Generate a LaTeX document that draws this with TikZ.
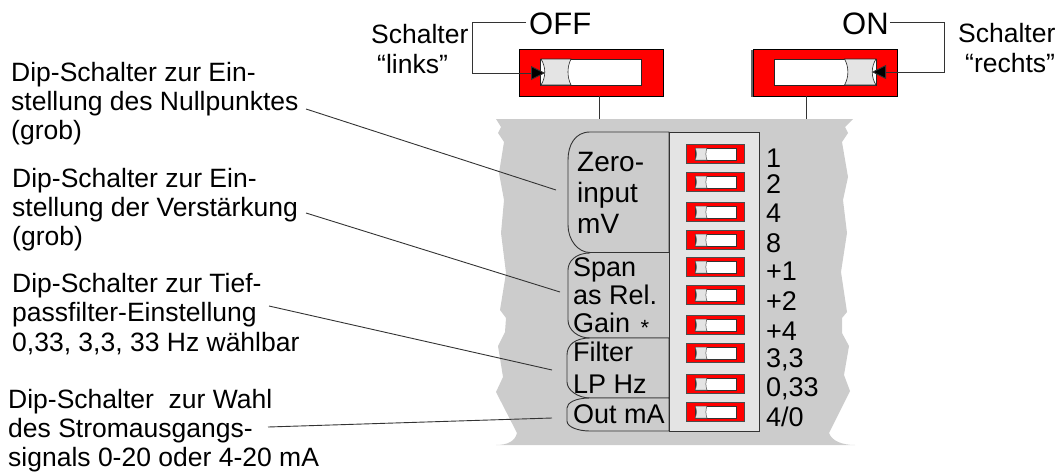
\documentclass[tikz,border=0pt]{standalone}
\usepackage{fontspec}
\setmainfont{Liberation Sans}
\usetikzlibrary{arrows.meta}
\definecolor{bodyg}{HTML}{CCCCCC}
\definecolor{panelg}{HTML}{E4E4E4}
\tikzset{
 x=1pt,y=-1pt,
 lbl/.style={inner sep=0pt,anchor=base west,font=\fontsize{26.5}{28}\selectfont,align=left},
 txt/.style={inner sep=0pt,anchor=base west,font=\fontsize{27}{30}\selectfont},
 txtb/.style={inner sep=0pt,anchor=base west,font=\fontsize{28}{30}\selectfont},
 lead/.style={draw=black!80,line width=0.9pt},
 roundbox/.style={draw=black!80,line width=0.9pt,fill=bodyg},
 bighead/.style={-{Triangle[length=14pt,width=14pt,fill=black]}},
}
\newcommand{\smallsw}[2]{%
 \fill[gray] (687,#1+1) rectangle (745,#1+20);
 \fill[red,draw=black!70,line width=.7pt] (686,#1) rectangle (744,#1+19);
 \fill[white,draw=black!80,line width=.7pt] (695,#1+4) rectangle (736,#1+16);
 \fill[panelg,draw=black!70,line width=.5pt] (695,#1+4) -- (707,#1+4) .. controls (705.5,#1+8) and (705.5,#1+12) .. (707,#1+16) -- (695,#1+16) .. controls (697,#1+12) and (697,#1+8) .. cycle;
 \coordinate (#2) at (744,#1+9);
}
\newcommand{\bigsw}[2]{%
 \fill[panelg,draw=black!85,line width=.6pt] (#1+1,59) -- (#2,59) .. controls (#2-4,67) and (#2-4,77) .. (#2,85) -- (#1+1,85) .. controls (#1+6,77) and (#1+6,67) .. cycle;
}
\begin{document}
\begin{tikzpicture}
\useasboundingbox (0,0) rectangle (1057,471);
% body
\fill[bodyg] (496,119) -- (853,119) -- (845,127) -- (848,133) -- (842,142) -- (848,177) -- (843,200) -- (847,233) -- (841,272) -- (847,312) -- (842,318) -- (842,333) -- (849,346) -- (844,375) -- (850,391) -- (829,433) .. controls (832,441) and (842,445) .. (855,445) -- (496,445) .. controls (508,445) and (515,441) .. (517,433) -- (496,392) -- (503,377) -- (498,346) -- (505,332) -- (506,318) -- (500,310) -- (506,273) -- (501,233) -- (504,200) -- (499,173) -- (504,142) -- (498,133) -- (501,127) -- cycle;
% leaders
\coordinate (z) at (556,190);
\coordinate (zs) at (306,109);
\coordinate (s) at (560,292);
\coordinate (ss) at (306,213);
\coordinate (f) at (552,370);
\coordinate (fs) at (269,306);
\coordinate (o) at (552,418);
\coordinate (os) at (268,427);
\draw[lead] (zs) -- (z);
\draw[lead] (ss) -- (s);
\draw[lead] (fs) -- (f);
\draw[lead] (os) -- (o);
% label boxes
\path[roundbox] (669,132) -- (590,132) .. controls (575,132) and (568,145) .. (568,160) -- (568,225) .. controls (568,240) and (578,252.5) .. (590,252.5) -- (669,252.5) -- cycle;
\path[roundbox] (669,338) -- (590,338) .. controls (578,338) and (568,330) .. (568,320) -- (568,270) .. controls (568,262) and (575,253) .. (590,253);
\path[roundbox] (669,338) -- (590,338) .. controls (575,338) and (567,345) .. (567,355) -- (567,382) .. controls (567,390) and (578,398) .. (590,398) -- (669,398) -- cycle;
\path[roundbox] (669,398) -- (590,398) .. controls (575,398) and (567,403) .. (567,408) -- (567,421) .. controls (567,427) and (578,431) .. (590,431) -- (669,431) -- cycle;
\node[draw=black!80,fill=panelg,line width=.9pt,minimum width=90.5pt,minimum height=299pt,inner sep=0pt,anchor=north west] (panel) at (668.5,132) {};
% small switches
\smallsw{144}{a}\smallsw{172}{b}\smallsw{202}{c}\smallsw{230}{d}\smallsw{257}{e}\smallsw{285}{f1}\smallsw{315}{g}\smallsw{343}{h}\smallsw{374}{i}\smallsw{402}{j}
% texts in boxes
\node[txtb] (t1) at (577,171) {Zero-};
\node[txtb] (t2) at (577,202) {input};
\node[txtb] (t3) at (577,233) {mV};
\node[txt] (t4) at (573,276) {Span};
\node[txt] (t5) at (573,304) {as Rel.};
\node[txt] (t6) at (573,332) {Gain};
\node[inner sep=0pt,anchor=center,font=\fontsize{22}{22}\selectfont] (star) at (645,328) {*};
\node[txt] (t7) at (573,361) {Filter};
\node[txt] (t8) at (573,393) {LP Hz};
\node[txt] (t9) at (573,423) {Out mA};
% numbers
\foreach \n/\t/\y in {n1/1/167,n2/2/193,n3/4/222,n4/8/252,n5/+1/280,n6/+2/310,n7/+4/340,n8/{3,3}/367,n9/{0,33}/396,n10/4\slash 0/426}
  \node[txt] (\n) at (766,\y) {\t};
% big switches
\fill[black!60] (520,50) rectangle (664,97);
\fill[red,draw=black,line width=.8pt] (519,49) rectangle (663,96);
\fill[white,draw=black!85,line width=.9pt] (540,59) rectangle (641,85);
\bigsw{540}{571}
\fill[black!60] (751,50) rectangle (896,97);
\fill[red,draw=black,line width=.8pt] (753,49) rectangle (897,96);
\fill[white,draw=black!85,line width=.9pt] (774,59) rectangle (876,85);
\fill[panelg,draw=black!85,line width=.6pt] (844.5,59) -- (876,59) .. controls (871,67) and (871,77) .. (876,85) -- (844.5,85) .. controls (849,77) and (849,67) .. cycle;
\coordinate (bl) at (599.5,96);
\coordinate (bl2) at (599.5,119);
\coordinate (br) at (806,96);
\coordinate (br2) at (806,119);
\draw[lead] (bl) -- (bl2);
\draw[lead] (br) -- (br2);
% titles
\node[inner sep=0pt,anchor=base west,font=\fontsize{31}{31}\selectfont] (off) at (529,34) {OFF};
\node[inner sep=0pt,anchor=base west,font=\fontsize{31}{31}\selectfont] (on) at (842,34) {ON};
\coordinate (ltip) at (545,73);
\coordinate (rtip) at (872,72);
\coordinate (lc) at (526,22);
\coordinate (rc) at (890,22);
\draw[lead,bighead] (lc) -- (472,22) -- (472,73) -- (ltip);
\draw[lead,bighead] (rc) -- (944,22) -- (944,72) -- (rtip);
% outside texts
\node[lbl] (sl) at (371,43) {Schalter};
\node[lbl] (sl2) at (377,73) {“links”};
\node[lbl] (sr) at (958,42) {Schalter};
\node[lbl] (sr2) at (965,72) {“rechts”};
\node[lbl] (d1) at (11,81) {Dip-Schalter zur Ein-};
\node[lbl] (d2) at (11,110) {stellung des Nullpunktes};
\node[lbl] (d3) at (11,139) {(grob)};
\node[lbl] (d4) at (12,187) {Dip-Schalter zur Ein-};
\node[lbl] (d5) at (12,216) {stellung der Verstärkung};
\node[lbl] (d6) at (12,245) {(grob)};
\node[lbl] (d7) at (12,292) {Dip-Schalter zur Tief-};
\node[lbl] (d8) at (12,321) {passfilter-Einstellung};
\node[lbl] (d9) at (12,351) {0,33, 3,3, 33 Hz wählbar};
\node[lbl] (d10) at (8,408) {Dip-Schalter\ \ zur Wahl};
\node[lbl] (d11) at (8,437) {des Stromausgangs-};
\node[lbl] (d12) at (8,466) {signals 0-20 oder 4-20 mA};
\end{tikzpicture}
\end{document}
